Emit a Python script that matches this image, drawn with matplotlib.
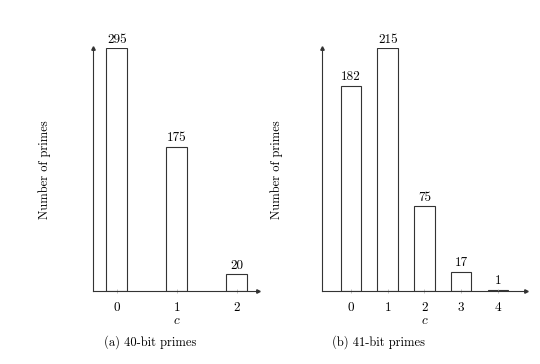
import matplotlib
matplotlib.use("Agg")
import matplotlib.pyplot as plt

plt.rcParams['font.family'] = 'serif'
plt.rcParams['font.serif'] = ['cmr10', 'DejaVu Serif']
plt.rcParams['mathtext.fontset'] = 'cm'
plt.rcParams['axes.formatter.use_mathtext'] = True

# 40-bit primes
c_a = [0, 1, 2]
counts_a = [295, 175, 20]
# 41-bit primes
c_b = [0, 1, 2, 3, 4]
counts_b = [182, 215, 75, 17, 1]

fig = plt.figure(figsize=(5.4, 3.64), dpi=100)
W, H = 540, 364


def make_axes(x0, x1, y_top, y_bot):
    return fig.add_axes([x0 / W, (H - y_bot) / H, (x1 - x0) / W, (y_bot - y_top) / H])


def draw_panel(ax, cs, counts, width, xlim, ylim, caption):
    ax.bar(cs, counts, width=width, color='white', edgecolor='#333333', linewidth=0.8)
    for x, v in zip(cs, counts):
        ax.text(x, v + ylim * 0.01, str(v), ha='center', va='bottom', fontsize=9.5)
    ax.set_xlim(*xlim)
    ax.set_ylim(0, ylim)
    for s in ['top', 'right']:
        ax.spines[s].set_visible(False)
    for s in ['left', 'bottom']:
        ax.spines[s].set_linewidth(0.8)
        ax.spines[s].set_color('#333333')
    # arrow heads
    ax.plot(1, 0, '>', color='#333333', ms=2.5, transform=ax.get_yaxis_transform(), clip_on=False)
    ax.plot(xlim[0], 1, '^', color='#333333', ms=2.5, transform=ax.get_xaxis_transform(), clip_on=False)
    ax.set_yticks([])
    ax.set_xticks(cs)
    ax.set_xticklabels([str(c) for c in cs], fontsize=9.5)
    ax.tick_params(axis='x', direction='inout', length=2.5, width=0.5, color='#aaaaaa', pad=7)
    ax.set_xlabel('$c$', fontsize=9.5)
    ax.set_ylabel('Number of primes', fontsize=9)
    ax.text(0.5, -0.183, caption, transform=ax.transAxes, ha='center', va='top', fontsize=9)


ax1 = make_axes(92.7, 257.7, 48.3, 290.7)
draw_panel(ax1, c_a, counts_a, 0.35, (-0.4, 2.35), 295, '(a) 40-bit primes')
ax1.xaxis.set_label_coords(0.508, -0.1)
ax1.yaxis.set_label_coords(-0.25, 0.5)
ax1.texts[-1].set_position((0.347, -0.183))

ax2 = make_axes(321.7, 525.7, 48.3, 290.7)
draw_panel(ax2, c_b, counts_b, 0.56, (-0.8, 4.76), 215, '(b) 41-bit primes')
ax2.xaxis.set_label_coords(0.504, -0.1)
ax2.yaxis.set_label_coords(-0.19, 0.5)
ax2.texts[-1].set_position((0.28, -0.183))

fig.savefig('out.png', dpi=100, facecolor='white')
